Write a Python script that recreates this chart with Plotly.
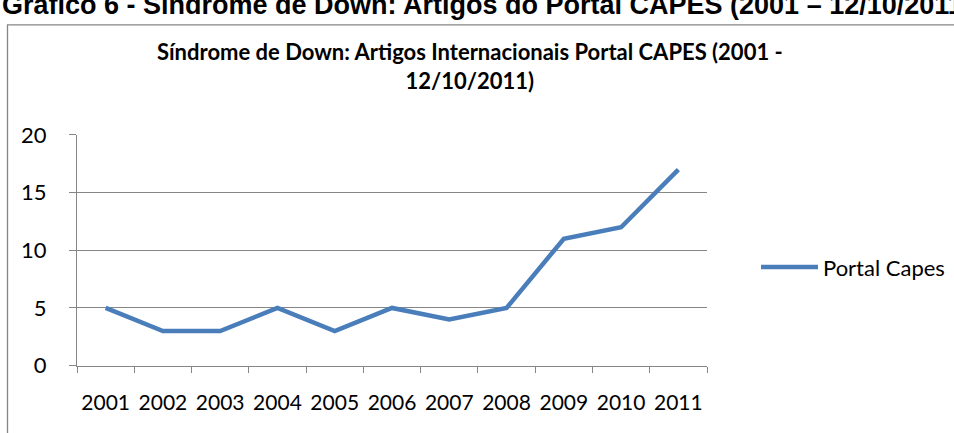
import plotly.graph_objects as go

years = ["2001", "2002", "2003", "2004", "2005", "2006", "2007", "2008", "2009", "2010", "2011"]
portal_capes = [5, 3, 3, 5, 3, 5, 4, 5, 11, 12, 17]
series_name = "Portal Capes"
y_ticks = [0, 5, 10, 15, 20]

W, H = 954, 433
GRAY = "#868686"
LINE = "#4A7EBB"
FONT = "Lato, Calibri, sans-serif"

def px_x(v):
    return v / W

def px_y(v):
    return 1 - v / H

fig = go.Figure()
fig.add_trace(go.Scatter(
    x=years, y=portal_capes, mode="lines", name=series_name,
    line=dict(color=LINE, width=4.5),
    showlegend=True,
))

fig.update_layout(
    width=W, height=H,
    margin=dict(l=0, r=0, t=0, b=0),
    paper_bgcolor="white", plot_bgcolor="white",
    showlegend=True,
    legend=dict(
        x=px_x(756), y=px_y(270), xanchor="left", yanchor="middle",
        font=dict(family=FONT, size=22, color="black"),
        itemwidth=57, bgcolor="rgba(0,0,0,0)",
    ),
    xaxis=dict(
        type="category", categoryorder="array", categoryarray=years,
        domain=[px_x(77), px_x(707)], range=[-0.5, 10.5],
        tickson="boundaries", ticks="outside", ticklen=6, tickwidth=1.3, tickcolor=GRAY,
        showline=True, linecolor=GRAY, linewidth=1.3,
        showgrid=False, zeroline=False, tickangle=0,
        tickfont=dict(family=FONT, size=21, color="black"),
        ticklabelstandoff=18,
    ),
    yaxis=dict(
        domain=[px_y(375), px_y(129)], range=[0, 20],
        tickvals=y_ticks, ticks="outside", ticklen=7, tickwidth=1.3, tickcolor=GRAY,
        showline=True, linecolor=GRAY, linewidth=1.3,
        showgrid=True, gridcolor=GRAY, gridwidth=1.3, zeroline=False,
        tickfont=dict(family=FONT, size=22, color="black"),
        ticklabelstandoff=18,
    ),
    shapes=[
        dict(type="rect", xref="paper", yref="paper",
             x0=px_x(7.5), x1=1.05, y0=-0.05, y1=px_y(11.5),
             line=dict(color=GRAY, width=1.3), fillcolor="rgba(0,0,0,0)", layer="below"),
    ],
    annotations=[
        dict(text="<b>Gráfico 6 - Síndrome de Down: Artigos do Portal CAPES (2001 – 12/10/2011)</b>",
             xref="paper", yref="paper", x=0, y=px_y(9), xanchor="left", yanchor="bottom",
             showarrow=False,
             font=dict(family="Liberation Sans, Arial, sans-serif", size=27, color="black")),
        dict(text="<b>Síndrome de Down: Artigos Internacionais Portal CAPES (2001 -<br>12/10/2011)</b>",
             xref="paper", yref="paper", x=px_x(470), y=px_y(55), xanchor="center", yanchor="middle",
             showarrow=False, align="center",
             font=dict(family=FONT, size=22, color="black")),
    ],
)

fig.write_html("out.html", config={"displayModeBar": False},
               post_script="document.body.style.margin='0';")
